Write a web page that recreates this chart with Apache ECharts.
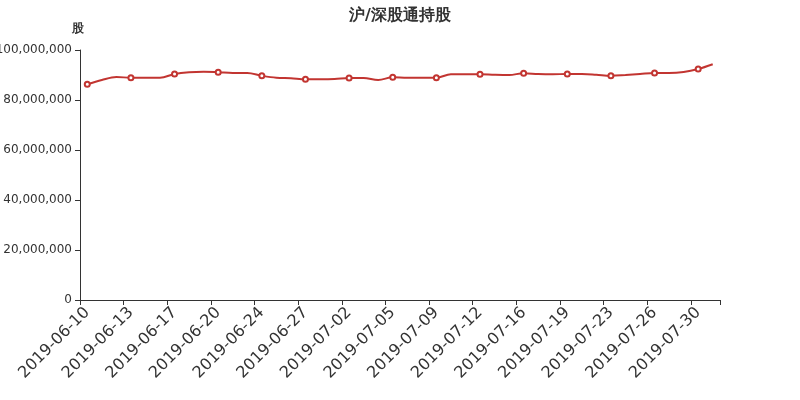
<!DOCTYPE html>
<html>
<head>
<meta charset="utf-8">
<script src="https://cdn.jsdelivr.net/npm/echarts@6/dist/echarts.min.js"></script>
<style>html,body{margin:0;padding:0;background:#fff}#c{width:800px;height:400px}</style>
</head>
<body>
<div id="c"></div>
<script>
var titleText = '沪/深股通持股';
var yName = '股';
var dates = ['2019-06-10','2019-06-11','2019-06-12','2019-06-13','2019-06-14','2019-06-16','2019-06-17','2019-06-18','2019-06-19','2019-06-20','2019-06-21','2019-06-23','2019-06-24','2019-06-25','2019-06-26','2019-06-27','2019-06-28','2019-06-30','2019-07-02','2019-07-03','2019-07-04','2019-07-05','2019-07-07','2019-07-08','2019-07-09','2019-07-10','2019-07-11','2019-07-12','2019-07-14','2019-07-15','2019-07-16','2019-07-17','2019-07-18','2019-07-19','2019-07-21','2019-07-22','2019-07-23','2019-07-24','2019-07-25','2019-07-26','2019-07-28','2019-07-29','2019-07-30','2019-07-31'];
var holdings = [86280000,88000000,89200000,88900000,88900000,88900000,90400000,91100000,91300000,91100000,90800000,90800000,89700000,88900000,88700000,88300000,88300000,88400000,88800000,88800000,88000000,89100000,88900000,88900000,88900000,90300000,90300000,90300000,90100000,90000000,90700000,90400000,90300000,90400000,90400000,90100000,89700000,90000000,90400000,90800000,90800000,91200000,92400000,94300000];
var yMin = 0, yMax = 100000000, yStep = 20000000;

var FONT = 'DejaVu Sans';
var chart = echarts.init(document.getElementById('c'));
chart.setOption({
  animation: false,
  textStyle: { fontFamily: FONT },
  title: { text: titleText, left: 'center', top: 3, textStyle: { fontSize: 16, fontWeight: 'bold', color: '#333', fontFamily: FONT } },
  grid: { left: 80, right: 80, top: 50, bottom: 100, containLabel: false, outerBoundsMode: 'none' },
  xAxis: {
    type: 'category', data: dates, boundaryGap: true,
    axisLine: { lineStyle: { color: '#333' } },
    axisTick: { show: true, interval: function (i) { return i % 3 === 0; }, lineStyle: { color: '#333' } },
    axisLabel: { interval: 2, rotate: 45, fontSize: 16, color: '#333', fontFamily: FONT, margin: 10 }
  },
  yAxis: {
    type: 'value', min: yMin, max: yMax, interval: yStep, name: yName,
    nameGap: 15, nameTextStyle: { color: '#333', fontSize: 12, fontWeight: 'bold', padding: [0, 0, 0, -4], fontFamily: FONT },
    axisLine: { show: true, lineStyle: { color: '#333' } },
    axisTick: { show: true, lineStyle: { color: '#333' } },
    splitLine: { show: false },
    axisLabel: { color: '#333', fontSize: 12, fontFamily: FONT, formatter: function (v) { return v.toLocaleString('en-US'); } }
  },
  series: [{
    type: 'line', data: holdings, smooth: 0.35,
    symbol: 'emptyCircle', showAllSymbol: true,
    symbolSize: function (v, p) { return p.dataIndex % 3 === 0 ? 5 : 0; },
    itemStyle: { color: '#c23531', borderWidth: 1 },
    lineStyle: { color: '#c23531', width: 2 }
  }]
});
</script>
</body>
</html>
